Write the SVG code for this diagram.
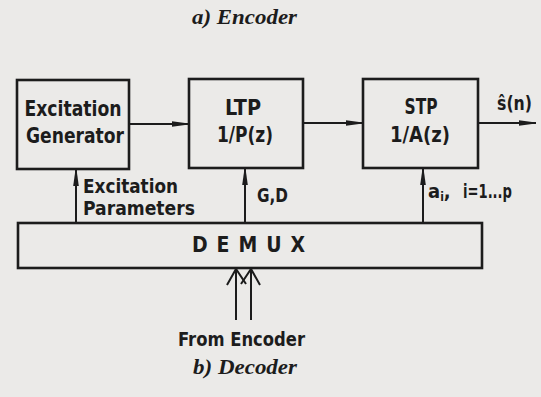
<svg xmlns="http://www.w3.org/2000/svg" width="541" height="397" viewBox="0 0 541 397">
  <style>
    .box { fill: none; stroke: #1c1c1c; stroke-width: 2.6; }
    .con { fill: none; stroke: #1c1c1c; stroke-width: 2; }
    .lbl { font-family: "DejaVu Sans Condensed", "DejaVu Sans", "Liberation Sans", sans-serif; font-weight: bold; fill: #1c1c1c; }
    .cap { font-family: "Liberation Serif", "Times New Roman", serif; font-weight: bold; font-style: italic; fill: #1c1c1c; font-size: 21px; }
  </style>
  <defs>
    <marker id="ah" viewBox="0 0 16 8" refX="17" refY="4" markerWidth="16" markerHeight="8" markerUnits="userSpaceOnUse" orient="auto">
      <path d="M0,1.2 L13,3 L15,4 L13,5 L0,6.8 Z" fill="#1c1c1c"/>
    </marker>
  </defs>
  <rect x="0" y="0" width="541" height="397" fill="#ebeae8"/>

  <text class="cap" x="244.5" y="24" text-anchor="middle" textLength="105" lengthAdjust="spacingAndGlyphs">a) Encoder</text>

  <g id="excitation-generator">
    <rect class="box" x="17" y="80" width="112" height="89"/>
    <text class="lbl" x="73" y="116" font-size="21" text-anchor="middle" textLength="97" lengthAdjust="spacingAndGlyphs">Excitation</text>
    <text class="lbl" x="75" y="143" font-size="21" text-anchor="middle" textLength="98" lengthAdjust="spacingAndGlyphs">Generator</text>
  </g>

  <g id="ltp">
    <rect class="box" x="189" y="79" width="114" height="89"/>
    <text class="lbl" x="243" y="115" font-size="21" text-anchor="middle" textLength="36" lengthAdjust="spacingAndGlyphs">LTP</text>
    <text class="lbl" x="245" y="142" font-size="21" text-anchor="middle" textLength="56" lengthAdjust="spacingAndGlyphs">1/P(z)</text>
  </g>

  <g id="stp">
    <rect class="box" x="363" y="79" width="115" height="89"/>
    <text class="lbl" x="421" y="114" font-size="21" text-anchor="middle" textLength="33" lengthAdjust="spacingAndGlyphs">STP</text>
    <text class="lbl" x="420" y="142" font-size="21" text-anchor="middle" textLength="60" lengthAdjust="spacingAndGlyphs">1/A(z)</text>
  </g>

  <g id="demux">
    <rect class="box" x="18" y="223" width="464" height="45"/>
    <text class="lbl" x="248.5" y="252" font-size="21" text-anchor="middle" textLength="113">D E M U X</text>
  </g>

  <g id="connectors">
    <path class="con" d="M129,124 H189" marker-end="url(#ah)"/>
    <path class="con" d="M303,123 H363" marker-end="url(#ah)"/>
    <path class="con" d="M478,123 H536" marker-end="url(#ah)"/>
    <path class="con" d="M76,223 V169" marker-end="url(#ah)"/>
    <path class="con" d="M245,223 V168" marker-end="url(#ah)"/>
    <path class="con" d="M423,223 V168" marker-end="url(#ah)"/>
    <path class="con" d="M236,320 V269 M227,285 L236,269 L246,284"/>
    <path class="con" d="M251,320 V269 M241,284 L251,269 L260,285"/>
  </g>

  <g id="labels">
    <text class="lbl" x="83" y="193" font-size="20" textLength="95" lengthAdjust="spacingAndGlyphs">Excitation</text>
    <text class="lbl" x="83" y="215" font-size="20" textLength="112" lengthAdjust="spacingAndGlyphs">Parameters</text>
    <text class="lbl" x="257" y="202" font-size="20" textLength="31" lengthAdjust="spacingAndGlyphs">G,D</text>
    <text class="lbl" x="428" y="198" font-size="20">a<tspan font-size="12" dy="3">i</tspan><tspan dy="-3">,</tspan></text>
    <text class="lbl" x="463" y="198" font-size="19" textLength="49" lengthAdjust="spacingAndGlyphs">i=1...p</text>
    <text class="lbl" x="497" y="110" font-size="20" textLength="35" lengthAdjust="spacingAndGlyphs">ŝ(n)</text>
    <text class="lbl" x="241.5" y="346" font-size="19" text-anchor="middle" textLength="127" lengthAdjust="spacingAndGlyphs">From Encoder</text>
  </g>

  <text class="cap" x="245" y="374" text-anchor="middle" textLength="104" lengthAdjust="spacingAndGlyphs">b) Decoder</text>
</svg>
